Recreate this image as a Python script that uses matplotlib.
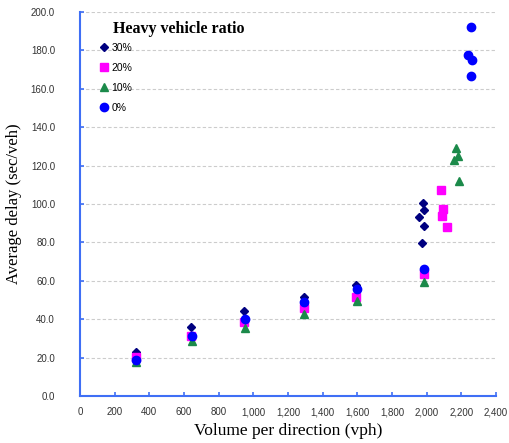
import matplotlib
matplotlib.use("Agg")
import matplotlib.pyplot as plt
from matplotlib.ticker import FuncFormatter, MultipleLocator

series_labels = ["30%", "20%", "10%", "0%"]
x30 = [325, 640, 945, 1290, 1590, 1980, 1985, 1955, 1985, 1975]
y30 = [23.0, 35.8, 44.3, 51.5, 57.6, 100.7, 96.8, 93.2, 88.6, 79.8]
x20 = [325, 640, 945, 1290, 1595, 1985, 2080, 2092, 2087, 2115]
y20 = [20.5, 31.0, 38.6, 45.7, 51.5, 63.3, 107.2, 97.6, 93.8, 87.9]
x10 = [325, 645, 950, 1295, 1600, 1985, 2167, 2178, 2155, 2184]
y10 = [17.5, 28.8, 35.5, 42.8, 49.3, 59.2, 129.3, 124.8, 122.9, 112.2]
x0 = [325, 645, 950, 1295, 1600, 1985, 2257, 2240, 2262, 2257]
y0 = [19.0, 31.5, 40.3, 48.8, 55.8, 66.3, 192.0, 177.8, 174.9, 166.5]

fig = plt.figure(figsize=(5.09, 4.43), dpi=100)
ax = fig.add_axes([80/509, 47/443, 416/509, 384/443])

spine_c = "#3f6ff5"
ax.plot(x30, y30, linestyle="none", marker="D", ms=4.3, color="#000080", label=series_labels[0])
ax.plot(x20, y20, linestyle="none", marker="s", ms=5.5, color="#ff00ff", label=series_labels[1])
ax.plot(x10, y10, linestyle="none", marker="^", ms=6, color="#1b8a4a", label=series_labels[2])
ax.plot(x0, y0, linestyle="none", marker="o", ms=6, color="#0000ff", label=series_labels[3])

ax.set_xlim(0, 2400)
ax.set_ylim(0, 200)
ax.xaxis.set_major_locator(MultipleLocator(200))
ax.yaxis.set_major_locator(MultipleLocator(20))
ax.xaxis.set_major_formatter(FuncFormatter(lambda v, p: f"{int(v):,}"))
ax.yaxis.set_major_formatter(FuncFormatter(lambda v, p: f"{v:.1f}"))

for s in ["top", "right"]:
    ax.spines[s].set_visible(False)
for s in ["left", "bottom"]:
    ax.spines[s].set_color(spine_c)
    ax.spines[s].set_linewidth(1.5)
ax.tick_params(direction="in", length=3, width=1.2, color=spine_c,
               labelsize=7, labelcolor="#333333")
ax.tick_params(axis="y", pad=18)
ax.tick_params(axis="x", pad=8)
for lbl in ax.get_xticklabels() + ax.get_yticklabels():
    lbl.set_family("Liberation Sans")
ax.grid(axis="y", linestyle=(0, (3, 2)), color="#cccccc", linewidth=0.8)
ax.set_axisbelow(True)

ax.set_xlabel("Volume per direction (vph)", family="Liberation Serif", fontsize=12.5, labelpad=4)
ax.set_ylabel("Average delay (sec/veh)", family="Liberation Serif", fontsize=12, labelpad=6)

ax.text(0.08, 0.955, "Heavy vehicle ratio", transform=ax.transAxes,
        family="Liberation Serif", fontweight="bold", fontsize=11.5, va="center", ha="left")
ax.legend(loc="upper left", bbox_to_anchor=(0.037, 0.93), frameon=False,
          prop={"family": "Liberation Sans", "size": 7.5},
          handletextpad=0.35, labelspacing=0.95, handlelength=0.8, borderaxespad=0)

fig.savefig("out.png", dpi=100)
